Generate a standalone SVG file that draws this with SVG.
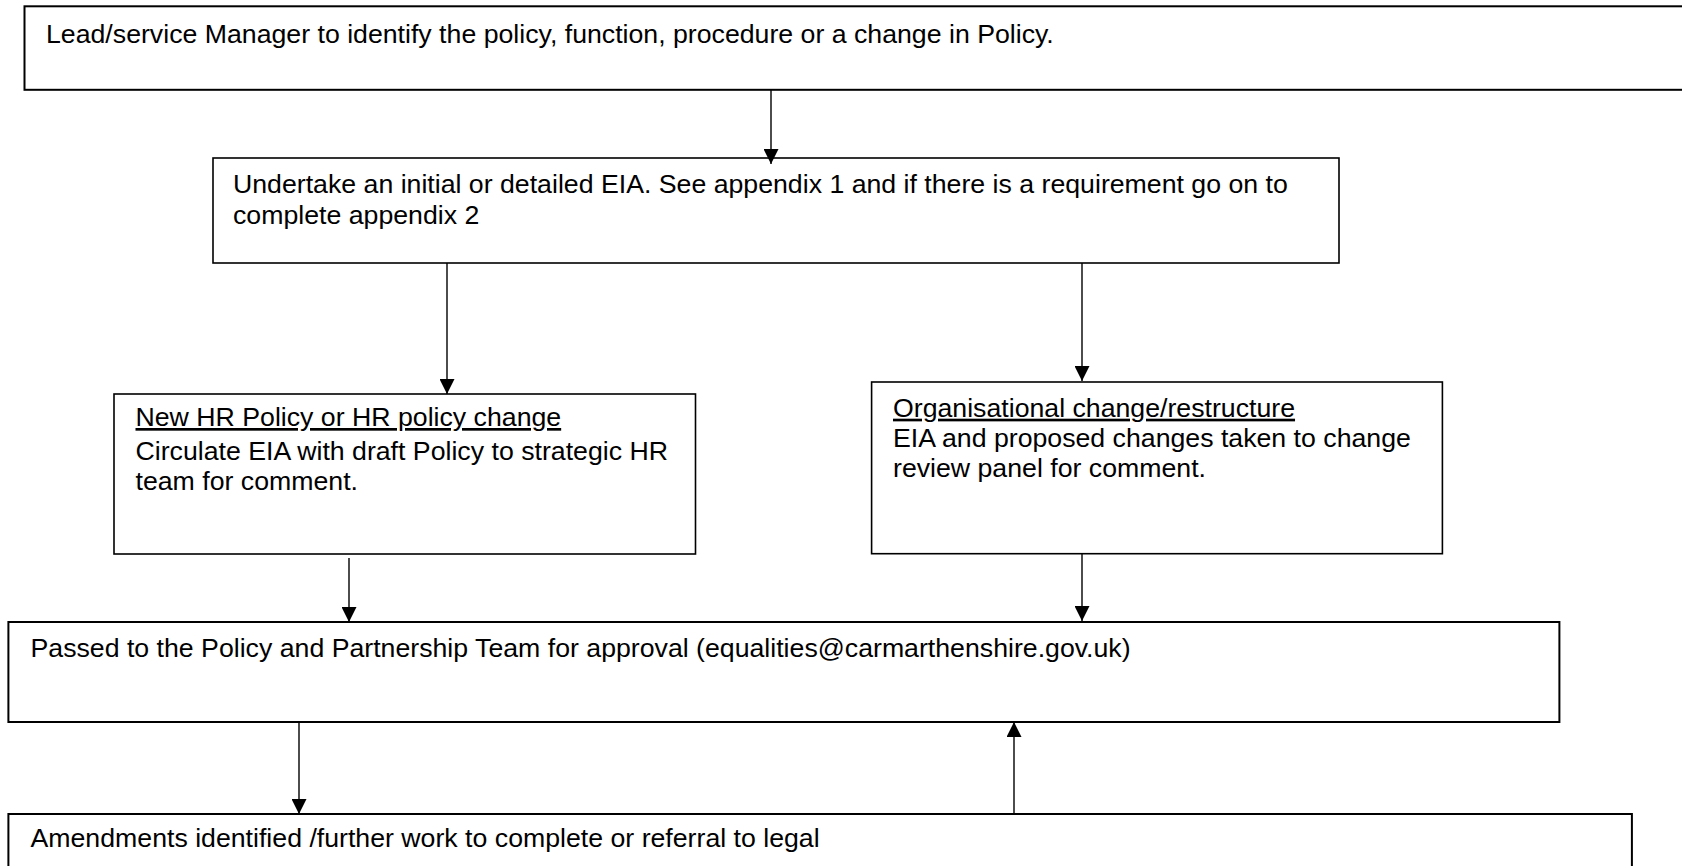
<svg xmlns="http://www.w3.org/2000/svg" width="1682" height="866" viewBox="0 0 1682 866">
<style>
.box{fill:#fff;stroke:#000;stroke-width:2}
.thin{stroke-width:1.6}
.t{font-family:"Liberation Sans",Arial,Helvetica,sans-serif;font-size:26.7px;fill:#000}
.u{text-decoration:underline}
.c{stroke:#000;stroke-width:1.4;fill:none;marker-end:url(#ah)}
</style>
<defs>
<marker id="ah" markerUnits="userSpaceOnUse" markerWidth="15" markerHeight="15" refX="15" refY="7.5" orient="auto" viewBox="0 0 15 15">
<path d="M0,0 L15,7.5 L0,15 z" fill="#000"/>
</marker>
</defs>
<rect width="1682" height="866" fill="#fff"/>
<g id="n1">
<rect class="box" x="24.5" y="6.3" width="1670" height="83.5"/>
<text class="t" x="46" y="42.7">Lead/service Manager to identify the policy, function, procedure or a change in Policy.</text>
</g>
<g id="n2">
<rect class="box thin" x="213" y="158" width="1126" height="105"/>
<text class="t" x="233" y="192.7">Undertake an initial or detailed EIA. See appendix 1 and if there is a requirement go on to</text>
<text class="t" x="233" y="223.5">complete appendix 2</text>
</g>
<g id="n3">
<rect class="box thin" x="114" y="394" width="581.5" height="160"/>
<text class="t" x="135.5" y="426"><tspan class="u">New HR Policy or HR policy change</tspan></text>
<text class="t" x="135.5" y="460">Circulate EIA with draft Policy to strategic HR</text>
<text class="t" x="135.5" y="490">team for comment.</text>
</g>
<g id="n4">
<rect class="box thin" x="871.6" y="382" width="570.8" height="171.7"/>
<text class="t" x="893" y="416.7"><tspan class="u">Organisational change/restructure</tspan></text>
<text class="t" x="893" y="447">EIA and proposed changes taken to change</text>
<text class="t" x="893" y="476.7">review panel for comment.</text>
</g>
<g id="n5">
<rect class="box" x="8.4" y="622" width="1551" height="100"/>
<text class="t" x="30.5" y="656.7">Passed to the Policy and Partnership Team for approval (equalities@carmarthenshire.gov.uk)</text>
</g>
<g id="n6">
<rect class="box" x="8.4" y="814" width="1623.5" height="80"/>
<text class="t" x="30.5" y="847.3">Amendments identified /further work to complete or referral to legal</text>
</g>
<g id="connectors">
<line class="c" x1="771" y1="90" x2="771" y2="164"/>
<line class="c" x1="447" y1="263" x2="447" y2="394"/>
<line class="c" x1="1082" y1="263" x2="1082" y2="381"/>
<line class="c" x1="349" y1="558" x2="349" y2="622"/>
<line class="c" x1="1082" y1="554" x2="1082" y2="621"/>
<line class="c" x1="299" y1="722" x2="299" y2="814"/>
<line class="c" x1="1014" y1="814" x2="1014" y2="722"/>
</g>
</svg>
